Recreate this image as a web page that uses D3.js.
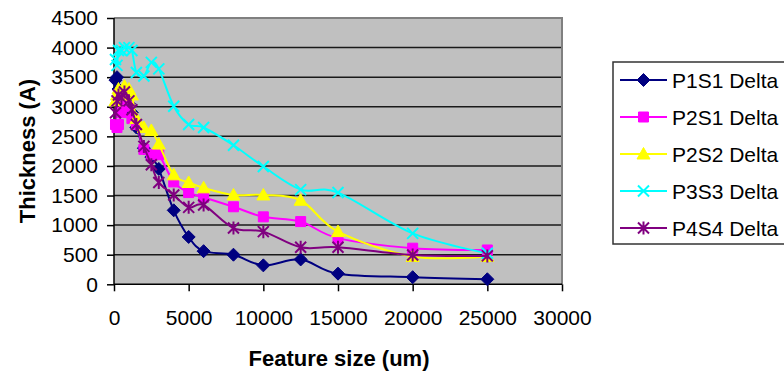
<!DOCTYPE html>
<html>
<head>
<meta charset="utf-8">
<script src="https://cdn.jsdelivr.net/npm/d3@7"></script>
<style>
  html, body { margin: 0; padding: 0; background: #fff; }
  svg { display: block; font-family: "Liberation Sans", Arial, sans-serif; }
</style>
</head>
<body>
<svg id="chart" width="784" height="372"></svg>
<script>
// Feature size (um) shared by every series
const featureSize = [100, 200, 300, 500, 700, 1000, 1200, 1500, 2000, 2500, 3000,
                     4000, 5000, 6000, 8000, 10000, 12500, 15000, 20000, 25000];

// Thickness (A) per series
const p1s1 = [3450, 3500, 3300, 3250, 3150, 3050, 2900, 2650, 2300, 2150, 1950,
              1250, 800, 560, 500, 320, 420, 180, 120, 85];
const p2s1 = [2700, 2650, 2700, 2900, 3050, 3000, 2800, 2700, 2280, 2190, 2190,
              1730, 1550, 1470, 1310, 1140, 1060, 780, 610, 580];
const p2s2 = [3100, 3200, 3300, 3200, 3350, 3300, 3200, 2800, 2650, 2600, 2370,
              1850, 1720, 1630, 1510, 1510, 1420, 890, 470, 470];
const p3s3 = [3800, 3700, 3950, 3950, 4000, 4000, 3950, 3580, 3520, 3750, 3640,
              3010, 2700, 2650, 2350, 1990, 1600, 1550, 860, 525];
const p4s4 = [2900, 3100, 3200, 3150, 3250, 3100, 2950, 2700, 2330, 2020, 1720,
              1510, 1300, 1340, 950, 890, 625, 625, 495, 480];

const seriesNames = ["P1S1 Delta", "P2S1 Delta", "P2S2 Delta", "P3S3 Delta", "P4S4 Delta"];
const seriesValues = [p1s1, p2s1, p2s2, p3s3, p4s4];
const seriesColors = ["#000080", "#FF00FF", "#FFFF00", "#00FFFF", "#800080"];
const seriesMarkers = ["diamond", "square", "triangle", "cross", "star"];

const xTicks = [0, 5000, 10000, 15000, 20000, 25000, 30000];
const yTicks = [0, 500, 1000, 1500, 2000, 2500, 3000, 3500, 4000, 4500];

const svg = d3.select("#chart");
const plot = { left: 114, right: 562, top: 18, bottom: 284.3 };

const x = d3.scaleLinear().domain([0, 30000]).range([plot.left, plot.right]);
const y = d3.scaleLinear().domain([0, 4500]).range([plot.bottom, plot.top]);

// plot area background
svg.append("rect")
  .attr("x", plot.left).attr("y", plot.top)
  .attr("width", plot.right - plot.left).attr("height", plot.bottom - plot.top)
  .attr("fill", "#C0C0C0");

// horizontal gridlines
svg.append("g")
  .selectAll("line")
  .data(yTicks.filter(d => d > 0 && d < 4500))
  .join("line")
  .attr("x1", plot.left).attr("x2", plot.right)
  .attr("y1", d => y(d)).attr("y2", d => y(d))
  .attr("stroke", "#1a1a1a").attr("stroke-width", 1.5);

// top and right border of the plot area
svg.append("path")
  .attr("d", `M${plot.left},${plot.top}H${plot.right}V${plot.bottom}`)
  .attr("fill", "none").attr("stroke", "#808080").attr("stroke-width", 2);

// axes
const yAxis = d3.axisLeft(y).tickValues(yTicks).tickSize(7).tickPadding(9).tickFormat(d3.format("d"));
const xAxis = d3.axisBottom(x).tickValues(xTicks).tickSize(7).tickPadding(19).tickFormat(d3.format("d"));

const gy = svg.append("g").attr("transform", `translate(${plot.left},0)`).call(yAxis);
const gx = svg.append("g").attr("transform", `translate(0,${plot.bottom})`).call(xAxis);

[gx, gy].forEach(g => {
  g.select(".domain").attr("stroke", "#000").attr("stroke-width", 1.5);
  g.selectAll(".tick line").attr("stroke", "#000").attr("stroke-width", 1.5);
  g.selectAll(".tick text").attr("fill", "#000")
    .style("font-size", "21px").style("font-family", "'Liberation Sans', Arial, sans-serif");
});
gx.select(".domain").attr("d", `M${plot.left},0H${plot.right}`);
gy.select(".domain").attr("d", `M0,${plot.bottom}V${plot.top}`);

// axis titles
svg.append("text")
  .attr("x", 339).attr("y", 366)
  .attr("text-anchor", "middle")
  .style("font-size", "22px").style("font-weight", "bold")
  .text("Feature size (um)");

svg.append("text")
  .attr("transform", "translate(35,151) rotate(-90)")
  .attr("text-anchor", "middle")
  .style("font-size", "22px").style("font-weight", "bold")
  .text("Thickness (A)");

// marker shapes
function markerPath(kind) {
  switch (kind) {
    case "diamond": return "M0,-6.5L6.5,0L0,6.5L-6.5,0Z";
    case "square": return "M-5,-5H5V5H-5Z";
    case "triangle": return "M0,-6.5L6.5,5L-6.5,5Z";
    case "cross": return "M-5.5,-5.5L5.5,5.5M-5.5,5.5L5.5,-5.5";
    case "star": return "M-5.5,-5.5L5.5,5.5M-5.5,5.5L5.5,-5.5M0,-6.5V6.5";
  }
}
function markerFilled(kind) { return kind === "diamond" || kind === "square" || kind === "triangle"; }

const line = d3.line()
  .x(d => x(d[0])).y(d => y(d[1]))
  .curve(d3.curveCatmullRom.alpha(0));

const seriesG = svg.append("g");
seriesValues.forEach((vals, i) => {
  const pts = featureSize.map((fs, j) => [fs, vals[j]]);
  const g = seriesG.append("g");
  g.append("path")
    .attr("d", line(pts))
    .attr("fill", "none")
    .attr("stroke", seriesColors[i])
    .attr("stroke-width", 2);
  const kind = seriesMarkers[i];
  g.selectAll("path.mk")
    .data(pts)
    .join("path")
    .attr("class", "mk")
    .attr("transform", d => `translate(${x(d[0])},${y(d[1])})`)
    .attr("d", markerPath(kind))
    .attr("fill", markerFilled(kind) ? seriesColors[i] : "none")
    .attr("stroke", seriesColors[i])
    .attr("stroke-width", markerFilled(kind) ? 1 : 2);
});

// legend
const legend = svg.append("g");
legend.append("rect")
  .attr("x", 613).attr("y", 62).attr("width", 190).attr("height", 182)
  .attr("fill", "#fff").attr("stroke", "#333").attr("stroke-width", 1.5);

seriesNames.forEach((name, i) => {
  const cy = 80 + i * 37;
  const row = legend.append("g");
  row.append("line")
    .attr("x1", 620).attr("x2", 667).attr("y1", cy).attr("y2", cy)
    .attr("stroke", seriesColors[i]).attr("stroke-width", 2);
  const kind = seriesMarkers[i];
  row.append("path")
    .attr("transform", `translate(643.5,${cy})`)
    .attr("d", markerPath(kind))
    .attr("fill", markerFilled(kind) ? seriesColors[i] : "none")
    .attr("stroke", seriesColors[i])
    .attr("stroke-width", markerFilled(kind) ? 1 : 2);
  row.append("text")
    .attr("x", 672).attr("y", cy).attr("dy", "0.36em")
    .style("font-size", "21px")
    .text(name);
});
</script>
</body>
</html>
